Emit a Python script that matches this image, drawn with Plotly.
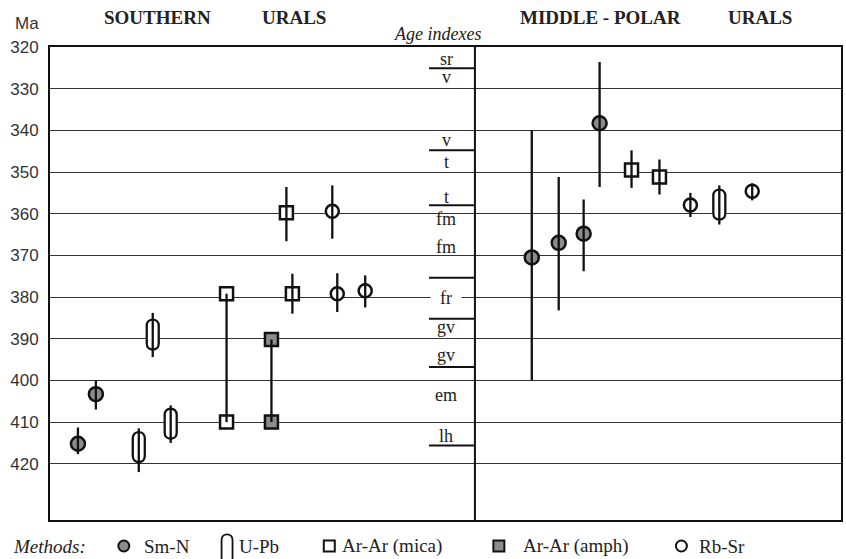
import plotly.graph_objects as go

# ---------------- data ----------------
y_ticks = [320, 330, 340, 350, 360, 370, 380, 390, 400, 410, 420]

# Sm-Nd
smn_slot = [28, 46, 483, 510, 535, 551]
smn_age = [415.2, 403.3, 370.5, 367.0, 364.8, 338.3]
smn_lo = [411.3, 400.0, 340.0, 351.2, 356.6, 323.6]
smn_hi = [417.7, 407.0, 400.0, 383.2, 373.8, 353.6]

# U-Pb
upb_slot = [89, 103, 121, 671]
upb_age = [416.0, 389.0, 410.4, 357.8]
upb_lo = [411.5, 383.8, 406.0, 353.2]
upb_hi = [422.0, 394.4, 415.0, 362.6]

# Ar-Ar (mica) with errors
mica_slot = [237, 243, 583, 611]
mica_age = [359.8, 379.2, 349.5, 351.2]
mica_lo = [353.6, 374.4, 344.8, 347.0]
mica_hi = [366.6, 384.0, 353.8, 355.4]

# Ar-Ar ranges (two ages joined)
mica_rng_slot = [177]
mica_rng_top = [379.2]
mica_rng_bot = [410.0]
amph_rng_slot = [222]
amph_rng_top = [390.2]
amph_rng_bot = [410.0]

# Rb-Sr
rbsr_slot = [283, 288, 316, 642, 704]
rbsr_age = [359.4, 379.2, 378.5, 357.9, 354.6]
rbsr_lo = [353.2, 374.3, 374.8, 355.0, 352.7]
rbsr_hi = [366.0, 383.6, 382.5, 360.8, 356.8]

# Age index column
stage_bounds = [325.1, 344.8, 358.0, 375.4, 385.2, 396.8, 415.6]
stage_labels = ["sr", "v", "v", "t", "t", "fm", "fm", "fr", "gv", "gv", "em", "lh"]
stage_label_age = [322.8, 327.2, 342.4, 347.6, 356.0, 361.2, 368.0, 380.3, 387.2, 394.0, 403.6, 413.4]

# ---------------- layout constants ----------------
W, H = 846, 559
ML, MR, MT, MB = 50, 3, 47, 39
PW, PH = W - ML - MR, H - MT - MB
Y_RANGE = [433.5, 320]
DIV_X = 426          # divider between panels (x units)
COL_X0 = 380         # start of short stage lines
LABEL_X = 397
BLACK = "#111111"
GRAY = "#8c8c8c"
SERIF = "Liberation Serif"
SANS = "Liberation Sans"


def px(x):
    return (x - ML) / PW


def py(y):
    return (H - MB - y) / PH


def seg(slots, lo, hi):
    xs, ys = [], []
    for s, a, b in zip(slots, lo, hi):
        xs += [s, s, None]
        ys += [a, b, None]
    return xs, ys


fig = go.Figure()

# markers
fig.add_trace(go.Scatter(x=smn_slot, y=smn_age, mode="markers", cliponaxis=False,
                         marker=dict(symbol="circle", size=14, color=GRAY,
                                     line=dict(color=BLACK, width=2.5)), showlegend=False))
fig.add_trace(go.Scatter(x=rbsr_slot, y=rbsr_age, mode="markers",
                         marker=dict(symbol="circle", size=13, color="white",
                                     line=dict(color=BLACK, width=2.5)), showlegend=False))
fig.add_trace(go.Scatter(x=mica_slot + mica_rng_slot * 2, y=mica_age + mica_rng_top + mica_rng_bot,
                         mode="markers",
                         marker=dict(symbol="square", size=13, color="white",
                                     line=dict(color=BLACK, width=2.5)), showlegend=False))
fig.add_trace(go.Scatter(x=amph_rng_slot * 2, y=amph_rng_top + amph_rng_bot, mode="markers",
                         marker=dict(symbol="square", size=13, color=GRAY,
                                     line=dict(color=BLACK, width=2.5)), showlegend=False))

# error lines / range connectors (drawn over markers)
ex, ey = [], []
for s, lo, hi in [(smn_slot, smn_lo, smn_hi), (upb_slot, upb_lo, upb_hi),
                  (mica_slot, mica_lo, mica_hi), (rbsr_slot, rbsr_lo, rbsr_hi),
                  (mica_rng_slot, mica_rng_top, mica_rng_bot),
                  (amph_rng_slot, amph_rng_top, amph_rng_bot)]:
    a, b = seg(s, lo, hi)
    ex += a
    ey += b
fig.add_trace(go.Scatter(x=ex, y=ey, mode="lines", line=dict(color=BLACK, width=2.3),
                         showlegend=False, hoverinfo="skip"))

shapes = []
# U-Pb capsules (pixel sized, anchored on data)
cap = "M -6,-9 L -6,9 C -6,17 6,17 6,9 L 6,-9 C 6,-17 -6,-17 -6,-9 Z"
for s, a in zip(upb_slot, upb_age):
    shapes.append(dict(type="path", xref="x", yref="y", xsizemode="pixel", ysizemode="pixel",
                       xanchor=s, yanchor=a, path=cap, fillcolor="white",
                       line=dict(color=BLACK, width=2.3), layer="between"))

# divider
shapes.append(dict(type="line", xref="x", yref="paper", x0=DIV_X, x1=DIV_X, y0=0, y1=1,
                   line=dict(color=BLACK, width=2), layer="above"))
# stage boundary short lines
for b in stage_bounds:
    shapes.append(dict(type="line", xref="x", yref="y", x0=COL_X0, x1=DIV_X, y0=b, y1=b,
                       line=dict(color=BLACK, width=2), layer="above"))

annotations = []
for t, a in zip(stage_labels, stage_label_age):
    d = dict(text=t, x=LABEL_X, y=a, xref="x", yref="y", showarrow=False,
             font=dict(family=SERIF, size=18, color="#222222"))
    if t == "fr":
        d.update(bgcolor="white", width=30, borderpad=0)
    annotations.append(d)


def ann(text, x, y, size, family=SERIF, xanchor="center", color="#222222"):
    annotations.append(dict(text=text, x=px(x), y=py(y), xref="paper", yref="paper",
                            xanchor=xanchor, yanchor="middle", showarrow=False,
                            font=dict(family=family, size=size, color=color)))


ann("Ma", 27, 24, 17, family=SANS, color="#333333")
ann("<b>SOUTHERN</b>", 158, 18, 19)
ann("<b>URALS</b>", 295, 18, 19)
ann("<b>MIDDLE - POLAR</b>", 602, 18, 19)
ann("<b>URALS</b>", 762, 18, 19)
ann("<i>Age indexes</i>", 438, 34, 18)

# legend (manual)
LY = 546
ann("<i>Methods:</i>", 11, LY, 19, xanchor="left")
ann("Sm-N", 142, LY, 19, xanchor="left")
ann("U-Pb", 237, LY, 19, xanchor="left")
ann("Ar-Ar (mica)", 341, LY, 19, xanchor="left")
ann("Ar-Ar (amph)", 522, LY, 19, xanchor="left")
ann("Rb-Sr", 699, LY, 19, xanchor="left")


def pshape(kind, cx, cy, r, fill):
    shapes.append(dict(type=kind, xref="paper", yref="paper",
                       x0=px(cx - r), x1=px(cx + r), y0=py(cy + r), y1=py(cy - r),
                       fillcolor=fill, line=dict(color=BLACK, width=2)))


pshape("circle", 124, LY, 5.5, GRAY)
pshape("rect", 330, LY, 5.5, "white")
pshape("rect", 500, LY, 5.5, GRAY)
pshape("circle", 683, LY, 5.5, "white")
# U-Pb open capsule symbol
x0, x1, ytop = 222, 233, 540
shapes.append(dict(type="path", xref="paper", yref="paper",
                   path=(f"M {px(x0)},{py(560)} L {px(x0)},{py(ytop)} "
                         f"C {px(x0)},{py(ytop - 7.5)} {px(x1)},{py(ytop - 7.5)} {px(x1)},{py(ytop)} "
                         f"L {px(x1)},{py(560)}"),
                   line=dict(color=BLACK, width=1.8)))

fig.update_layout(
    width=W, height=H, margin=dict(l=ML, r=MR, t=MT, b=MB),
    paper_bgcolor="white", plot_bgcolor="white",
    showlegend=False, shapes=shapes, annotations=annotations,
    xaxis=dict(range=[0, PW], showgrid=False, zeroline=False, showticklabels=False,
               showline=True, mirror=True, linecolor=BLACK, linewidth=2, fixedrange=True),
    yaxis=dict(range=Y_RANGE, tickvals=y_ticks, ticktext=[str(v) for v in y_ticks],
               showgrid=True, gridcolor="#333333", gridwidth=1.4, zeroline=False,
               showline=True, mirror=True, linecolor=BLACK, linewidth=2,
               ticks="", ticklabelstandoff=6,
               tickfont=dict(family=SANS, size=17, color="#333333")),
)

fig.write_html("out.html", config={"displayModeBar": False},
               post_script="document.body.style.margin='0';document.body.style.overflow='hidden';")
